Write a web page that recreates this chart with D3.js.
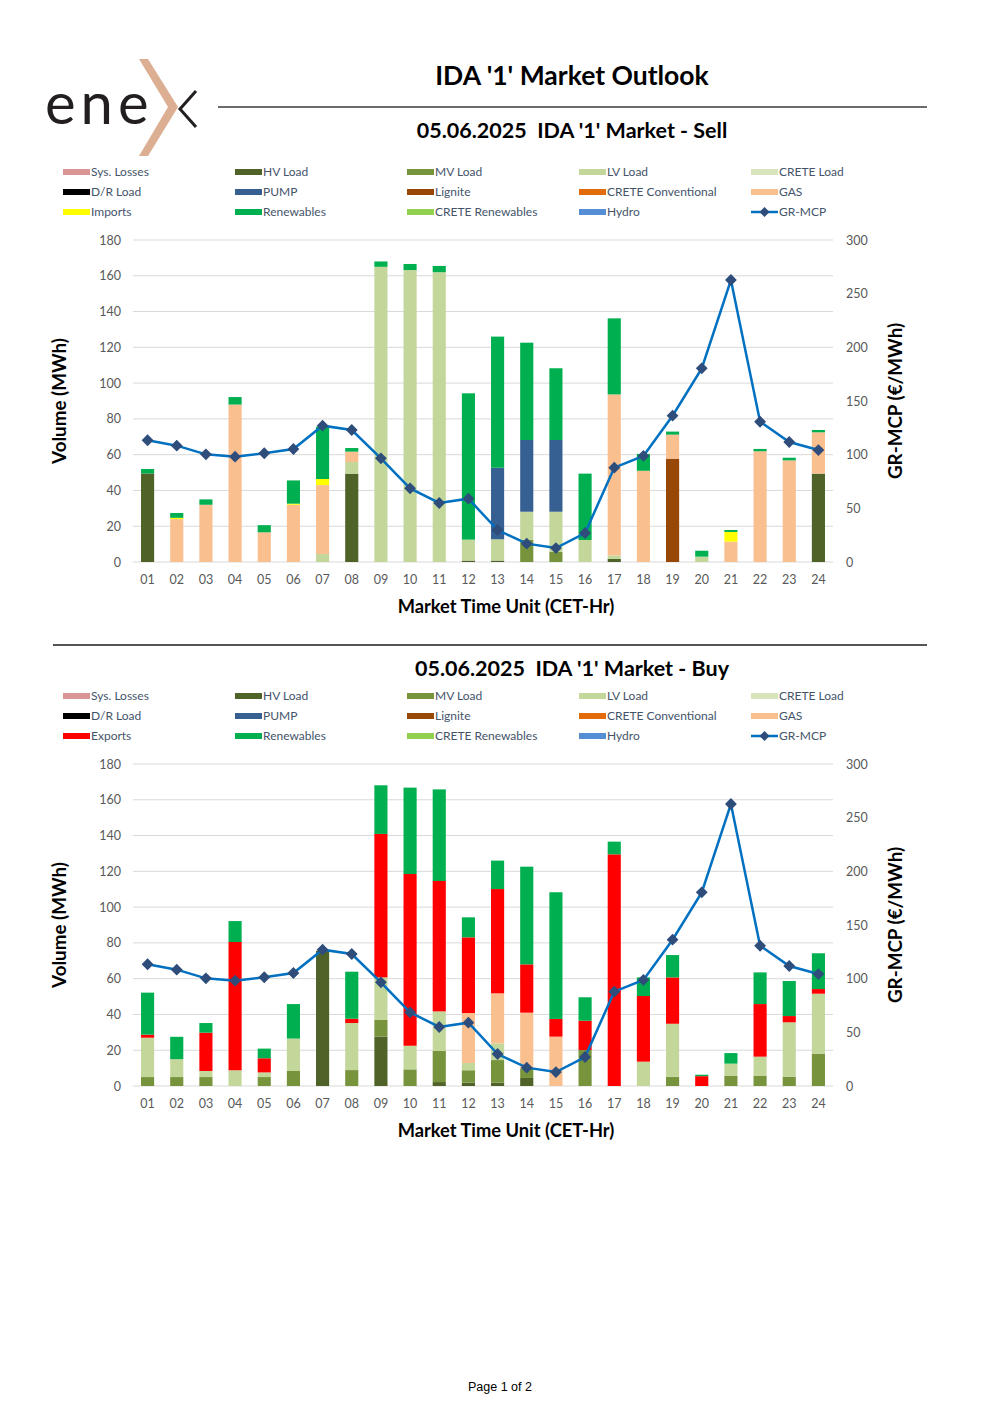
<!DOCTYPE html>
<html><head><meta charset="utf-8">
<script src="https://cdn.jsdelivr.net/npm/d3@7"></script>
<style>
body{margin:0;background:#fff;}
svg{display:block;font-family:Lato, "Open Sans", sans-serif;}
text{white-space:pre;}
</style></head>
<body>
<svg id="c" width="1000" height="1415"></svg>
<script>
// ---------- DATA ----------
const hours = ["01","02","03","04","05","06","07","08","09","10","11","12","13","14","15","16","17","18","19","20","21","22","23","24"];
const volumeTicks = [0,20,40,60,80,100,120,140,160,180];
const priceTicks = [0,50,100,150,200,250,300];

const seriesNames = ["Sys. Losses","HV Load","MV Load","LV Load","CRETE Load","D/R Load","PUMP","Lignite","CRETE Conventional","GAS","Imports","Exports","Renewables","CRETE Renewables","Hydro"];
const seriesColors = ["#DA9694","#4F6228","#77933C","#C4D79B","#D8E4BC","#000000","#376092","#974706","#E26B0A","#FABF8F","#FFFF00","#FF0000","#00B050","#92D050","#558ED5"];

const grMcp = [113.4,108.4,100.3,98.1,101.3,105.3,127,123,96.6,68.6,55,59,29.8,17.1,13,27,87.9,98.8,136.3,180.4,262.7,130.7,111.8,104.3];

// Sell side
const sellHV        = [49.5,0,0,0,0,0,0,49.4,0,0,0,0.8,0.8,0,0,0,1.7,0,0,0,0,0,0,49.4];
const sellMV        = [0,0,0,0,0,0,0,0,0,0,0,0,0,12.5,5.6,0,0,0,0,0,0,0,0,0];
const sellLV        = [0,0,0,0,0,0,4.5,6.5,165,163.2,162,11.7,11.9,15.6,22.5,12.3,2,0,0,3,0,0,0,0];
const sellPUMP      = [0,0,0,0,0,0,0,0,0,0,0,0,40,40.1,40.1,0,0,0,0,0,0,0,0,0];
const sellLignite   = [0,0,0,0,0,0,0,0,0,0,0,0,0,0,0,0,0,0,57.8,0,0,0,0,0];
const sellGAS       = [0,24,32,88,16.6,32,38.5,5.8,0,0,0,0,0,0,0,0,90,51,13.4,0,11.4,61.9,56.8,23.1];
const sellImports   = [0,0.7,0,0,0,0.6,3.4,0,0,0,0,0,0,0,0,0,0,0,0,0,5.4,0,0,0];
const sellRenewables= [2.5,2.7,3,4.2,4,13,29.2,2,3,3.4,3.5,81.8,73.3,54.4,40.1,37.1,42.5,9.4,1.7,3.3,1.1,1.3,1.5,1.3];

// Buy side
const buyHV         = [0,0,0,0,0,0,75.6,0,27.6,0,2.2,1.9,1.9,4.5,0,0,0,0,0,0,0,0,0,0];
const buyMV         = [5,5,5,0,5,8.4,0,8.9,9.3,9.3,17.4,6.9,12.6,5.4,0,20.1,0,0,5.2,0,5.6,5.6,5.2,18.1];
const buyLV         = [22,10,3.4,8.8,2.6,18.1,0,26.3,23.8,13.2,22.1,4.1,9.3,0,0,0,0,13.6,29.6,0,6.9,10.8,30.4,33.5];
const buyGAS        = [0,0,0,0,0,0,0,0,0,0,0,27.9,28,31.1,27.6,0,0,0,0,0,0,0,0,0];
const buyExports    = [1.7,0,21.4,71.7,7.9,0,0,2.4,80.2,96,72.9,42.3,58.3,27,9.9,16.4,129.5,36.7,25.9,5.5,0,29.4,3.5,2.6];
const buyRenewables = [23.5,12.5,5.4,11.7,5.4,19.3,0,26.3,27.2,48.3,51.2,11.2,15.9,54.6,70.8,13.1,7.1,10.4,12.5,0.8,5.9,17.7,19.6,20];

const zeros = hours.map(() => 0);

// ---------- DRAW ----------
const svg = d3.select("#c");
const TXT = "#595959";

// Logo
const logo = svg.append("g");
logo.append("text").attr("x",45).attr("y",124).attr("font-size",58).attr("letter-spacing",5)
  .attr("fill","#231f20").attr("font-family","Lato, sans-serif").attr("font-weight",400).text("ene");
logo.append("path").attr("d","M139,59 L148,59 L178,107 L148,156 L139,156 L168,107 Z").attr("fill","#DCAF93");
logo.append("path").attr("d","M196,91 L180,109 L196,127").attr("fill","none").attr("stroke","#231f20").attr("stroke-width",3);

// Main title
svg.append("text").attr("x",572).attr("y",85).attr("text-anchor","middle").attr("font-size",26.5)
  .attr("font-weight",700).attr("fill","#000").text("IDA '1' Market Outlook");
svg.append("line").attr("x1",218).attr("x2",927).attr("y1",107).attr("y2",107).attr("stroke","#3a3a3a").attr("stroke-width",1.5);

// Separator
svg.append("line").attr("x1",53).attr("x2",927).attr("y1",645).attr("y2",645).attr("stroke","#555").attr("stroke-width",2);

// footer
svg.append("text").attr("x",500).attr("y",1391).attr("text-anchor","middle").attr("font-size",12.5)
  .attr("font-family","'Liberation Sans', Arial, sans-serif").attr("fill","#000").text("Page 1 of 2");

function drawChart(top, subtitle, subtitleY, cols, thirdName) {
  const g = svg.append("g").attr("transform", `translate(0,${top})`);
  const plotTop = 0, plotBottom = 322, left = 133, right = 833;

  g.append("text").attr("x",572).attr("y",subtitleY).attr("text-anchor","middle").attr("font-size",21.5)
    .attr("font-weight",700).attr("fill","#000").text(subtitle);

  // Legend
  const legendItems = ["Sys. Losses","HV Load","MV Load","LV Load","CRETE Load","D/R Load","PUMP","Lignite","CRETE Conventional","GAS",thirdName,"Renewables","CRETE Renewables","Hydro","GR-MCP"];
  const colX = [63,235,407,579,751];
  legendItems.forEach((name,i) => {
    const r = Math.floor(i/5), c = i%5;
    const x = colX[c], y = -68 + r*20;
    const lg = g.append("g");
    if (name === "GR-MCP") {
      lg.append("line").attr("x1",x).attr("x2",x+27).attr("y1",y).attr("y2",y).attr("stroke","#0070C0").attr("stroke-width",2.5);
      lg.append("path").attr("d",d3.symbol(d3.symbolSquare,50)()).attr("transform",`translate(${x+13.5},${y}) rotate(45)`).attr("fill","#2E4D7B");
    } else {
      const col = seriesColors[seriesNames.indexOf(name)];
      lg.append("rect").attr("x",x).attr("y",y-3).attr("width",27).attr("height",6).attr("fill",col);
    }
    lg.append("text").attr("x",x+28).attr("y",y+4).attr("font-size",12).attr("fill","#44546A").text(name);
  });

  const x = d3.scaleBand().domain(hours).range([left,right]).paddingInner(0.55).paddingOuter(0.275);
  const y = d3.scaleLinear().domain([0,180]).range([plotBottom,plotTop]);
  const y2 = d3.scaleLinear().domain([0,300]).range([plotBottom,plotTop]);

  // grid
  g.append("g").selectAll("line").data(volumeTicks).join("line")
    .attr("x1",left).attr("x2",right).attr("y1",d=>y(d)).attr("y2",d=>y(d))
    .attr("stroke","#D9D9D9").attr("stroke-width",1);

  // axes
  const ax = g.append("g").attr("transform",`translate(${left-10},0)`)
    .call(d3.axisLeft(y).tickValues(volumeTicks).tickSize(0).tickPadding(2));
  ax.select(".domain").remove();
  ax.selectAll("text").attr("font-size",12.5).attr("fill",TXT).attr("font-family","Lato, sans-serif");

  const ax2 = g.append("g").attr("transform",`translate(${right+12},0)`)
    .call(d3.axisRight(y2).tickValues(priceTicks).tickSize(0).tickPadding(1));
  ax2.select(".domain").remove();
  ax2.selectAll("text").attr("font-size",12.5).attr("fill",TXT).attr("font-family","Lato, sans-serif");

  const axb = g.append("g").attr("transform",`translate(0,${plotBottom+10})`)
    .call(d3.axisBottom(x).tickSize(0).tickPadding(3));
  axb.select(".domain").remove();
  axb.selectAll("text").attr("font-size",12.5).attr("fill",TXT).attr("font-family","Lato, sans-serif");

  // stacked bars
  const rows = hours.map((h,i) => {
    const o = {hour:h};
    seriesNames.forEach((s,k) => { o[s] = cols[k][i]; });
    return o;
  });
  const stack = d3.stack().keys(seriesNames)(rows);
  stack.forEach((layer,k) => {
    g.append("g").attr("fill",seriesColors[k]).selectAll("rect").data(layer).join("rect")
      .attr("x",d=>x(d.data.hour)).attr("width",x.bandwidth())
      .attr("y",d=>y(d[1])).attr("height",d=>Math.max(0,y(d[0])-y(d[1])));
  });

  // line
  const line = d3.line().x((d,i)=>x(hours[i])+x.bandwidth()/2).y(d=>y2(d));
  g.append("path").datum(grMcp).attr("d",line).attr("fill","none").attr("stroke","#0070C0").attr("stroke-width",2.5);
  g.append("g").selectAll("path").data(grMcp).join("path")
    .attr("d",d3.symbol(d3.symbolSquare,70)())
    .attr("transform",(d,i)=>`translate(${x(hours[i])+x.bandwidth()/2},${y2(d)}) rotate(45)`)
    .attr("fill","#2E4D7B");

  // axis titles
  g.append("text").attr("transform",`translate(66,${plotBottom/2}) rotate(-90)`).attr("text-anchor","middle")
    .attr("font-size",18.8).attr("font-weight",700).attr("fill","#000").text("Volume (MWh)");
  g.append("text").attr("transform",`translate(902,${plotBottom/2}) rotate(-90)`).attr("text-anchor","middle")
    .attr("font-size",18.8).attr("font-weight",700).attr("fill","#000").text("GR-MCP (€/MWh)");
  g.append("text").attr("x",506).attr("y",plotBottom+51).attr("text-anchor","middle")
    .attr("font-size",18.3).attr("font-weight",700).attr("fill","#000").text("Market Time Unit (CET-Hr)");
}

// columns in seriesNames order
drawChart(240, "05.06.2025  IDA '1' Market - Sell", -102,
  [zeros, sellHV, sellMV, sellLV, zeros, zeros, sellPUMP, sellLignite, zeros, sellGAS, sellImports, zeros, sellRenewables, zeros, zeros],
  "Imports");
drawChart(764, "05.06.2025  IDA '1' Market - Buy", -88,
  [zeros, buyHV, buyMV, buyLV, zeros, zeros, zeros, zeros, zeros, buyGAS, zeros, buyExports, buyRenewables, zeros, zeros],
  "Exports");
</script>
</body></html>
